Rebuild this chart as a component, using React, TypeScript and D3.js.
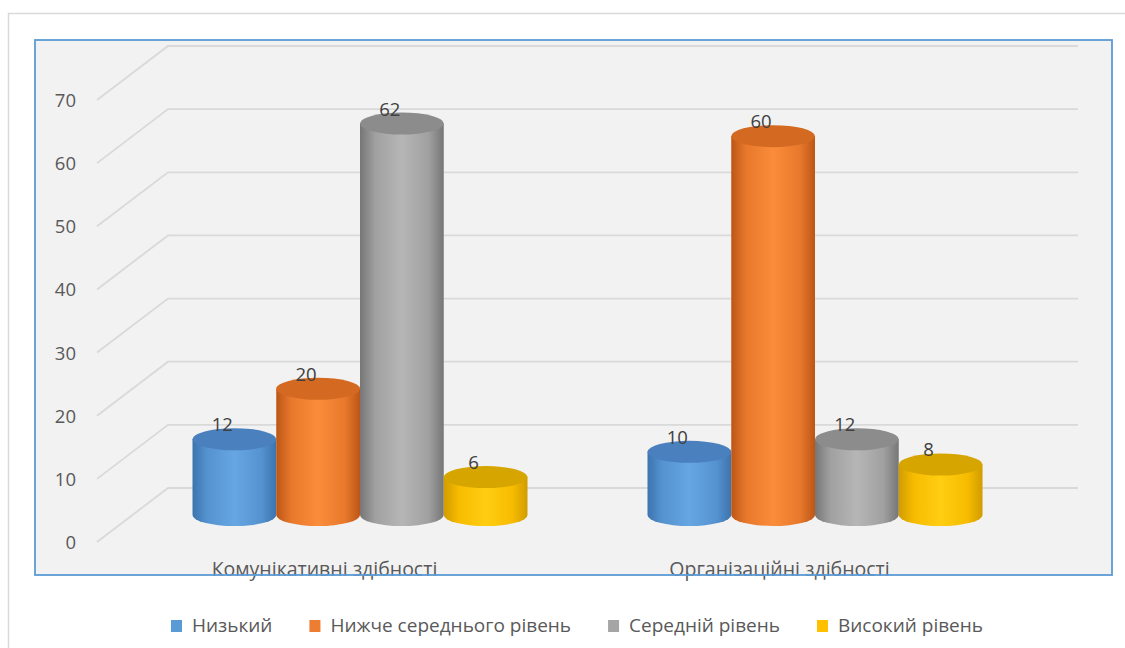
import React, { useEffect, useRef } from "react";
import * as d3 from "d3";

const categories = ["Комунікативні здібності", "Організаційні здібності"];
const seriesNames = ["Низький", "Нижче середнього рівень", "Середній рівень", "Високий рівень"];
const seriesValues = [
  [12, 10],
  [20, 60],
  [62, 12],
  [6, 8],
];
const yTicks = [0, 10, 20, 30, 40, 50, 60, 70];
const seriesColors = [
  { edge: "#3C74AE", mid: "#5593D0", light: "#66A6E2", top: "#4A80BD", legend: "#5B9BD5" },
  { edge: "#BC5616", mid: "#E8792C", light: "#FA8C3A", top: "#D46A22", legend: "#ED7D31" },
  { edge: "#767676", mid: "#A0A0A0", light: "#B6B6B6", top: "#8C8C8C", legend: "#A5A5A5" },
  { edge: "#D19C00", mid: "#F7BC00", light: "#FFCD12", top: "#D6A500", legend: "#FFC000" },
];

const W = 1125;
const H = 648;
const FONT = "'Open Sans', 'Noto Sans', sans-serif";

export default function App() {
  const ref = useRef<SVGSVGElement | null>(null);

  useEffect(() => {
    const svg = d3.select(ref.current);
    svg.selectAll("*").remove();

    const defs = svg.append("defs");
    seriesColors.forEach((c, i) => {
      const g = defs
        .append("linearGradient")
        .attr("id", "cyl" + i)
        .attr("x1", "0%")
        .attr("x2", "100%")
        .attr("y1", "0%")
        .attr("y2", "0%");
      g.append("stop").attr("offset", "0%").attr("stop-color", c.edge);
      g.append("stop").attr("offset", "18%").attr("stop-color", c.mid);
      g.append("stop").attr("offset", "50%").attr("stop-color", c.light);
      g.append("stop").attr("offset", "82%").attr("stop-color", c.mid);
      g.append("stop").attr("offset", "100%").attr("stop-color", c.edge);
    });

    // outer chart area
    svg.append("rect").attr("width", W).attr("height", H).attr("fill", "#ffffff");
    svg
      .append("path")
      .attr("d", `M8.5,${H} L8.5,13.5 L${W},13.5`)
      .attr("fill", "none")
      .attr("stroke", "#D9D9D9")
      .attr("stroke-width", 1.5);

    // plot area
    const plot = { x: 35, y: 40, w: 1077, h: 535 };
    svg
      .append("rect")
      .attr("x", plot.x)
      .attr("y", plot.y)
      .attr("width", plot.w)
      .attr("height", plot.h)
      .attr("fill", "#F2F2F2");

    const front = { x0: 97, x1: 1007 };
    const depth = { dx: 71, dy: -54 };
    const y = d3.scaleLinear().domain([0, 70]).range([542, 100]);
    const x = d3.scaleBand<string>().domain(categories).range([front.x0, front.x1]).padding(0);

    // gridlines
    const grid = svg.append("g");
    yTicks.forEach((t) => {
      const fy = y(t);
      grid
        .append("path")
        .attr(
          "d",
          `M${front.x0},${fy} L${front.x0 + depth.dx},${fy + depth.dy} L${front.x1 + depth.dx},${fy + depth.dy}`
        )
        .attr("fill", "none")
        .attr("stroke", "#D9D9D9")
        .attr("stroke-width", 1.8);
    });

    // y labels
    svg
      .append("g")
      .selectAll("text")
      .data(yTicks)
      .join("text")
      .attr("x", 76)
      .attr("y", (d) => y(d) + 7)
      .attr("text-anchor", "end")
      .attr("font-family", FONT)
      .attr("font-size", 18.5)
      .attr("fill", "#595959")
      .text((d) => String(d));

    // bars (cylinders) at middle depth
    const mdx = depth.dx / 2;
    const mdy = depth.dy / 2;
    const groupPad = 60;
    const inner = d3.scaleBand<number>().domain(d3.range(seriesNames.length)).padding(0);
    const ry = 11;
    const bars = svg.append("g");
    const labels = svg.append("g");
    categories.forEach((cat, ci) => {
      const bx = x(cat)!;
      inner.range([bx + groupPad + mdx, bx + x.bandwidth() - groupPad + mdx]);
      seriesValues.forEach((vals, si) => {
        const v = vals[ci];
        const left = inner(si)!;
        const bw = inner.bandwidth();
        const rx = bw / 2;
        const cx = left + rx;
        const yBottom = y(0) + mdy;
        const yTop = y(v) + mdy;
        const c = seriesColors[si];
        const g = bars.append("g");
        g.append("path")
          .attr(
            "d",
            `M${left},${yTop} L${left},${yBottom} A${rx},${ry} 0 0 0 ${left + bw},${yBottom} L${left + bw},${yTop} Z`
          )
          .attr("fill", `url(#cyl${si})`);
        g.append("ellipse")
          .attr("cx", cx)
          .attr("cy", yTop)
          .attr("rx", rx)
          .attr("ry", ry)
          .attr("fill", c.top);
        labels
          .append("text")
          .attr("x", cx - 12)
          .attr("y", yTop - ry + 3)
          .attr("text-anchor", "middle")
          .attr("font-family", FONT)
          .attr("font-size", 18.5)
          .attr("fill", "#404040")
          .text(String(v));
      });
    });

    // category labels
    svg
      .append("g")
      .selectAll("text")
      .data(categories)
      .join("text")
      .attr("x", (d) => x(d)! + x.bandwidth() / 2)
      .attr("y", 576)
      .attr("text-anchor", "middle")
      .attr("font-family", FONT)
      .attr("font-size", 19.5)
      .attr("fill", "#595959")
      .text((d) => d);

    // plot border
    svg
      .append("rect")
      .attr("x", plot.x)
      .attr("y", plot.y)
      .attr("width", plot.w)
      .attr("height", plot.h)
      .attr("fill", "none")
      .attr("stroke", "#5B9BD5")
      .attr("stroke-width", 1.8);

    // legend
    const legend = svg.append("g");
    const items = seriesNames.map((name, i) => {
      const g = legend.append("g");
      g.append("rect")
        .attr("x", 0)
        .attr("y", -12)
        .attr("width", 11)
        .attr("height", 12)
        .attr("fill", seriesColors[i].legend);
      const t = g
        .append("text")
        .attr("x", 21)
        .attr("y", 0)
        .attr("font-family", FONT)
        .attr("font-size", 19)
        .attr("fill", "#595959")
        .text(name);
      const w = 21 + (t.node() as SVGTextElement).getComputedTextLength();
      return { g, w };
    });
    const gap = 37;
    const total = d3.sum(items, (d) => d.w) + gap * (items.length - 1);
    let cursor = 577 - total / 2;
    items.forEach((it) => {
      it.g.attr("transform", `translate(${cursor},632)`);
      cursor += it.w + gap;
    });
  }, []);

  return (
    <svg
      ref={ref}
      width={W}
      height={H}
      style={{ position: "absolute", left: 0, top: 0, display: "block" }}
    />
  );
}
